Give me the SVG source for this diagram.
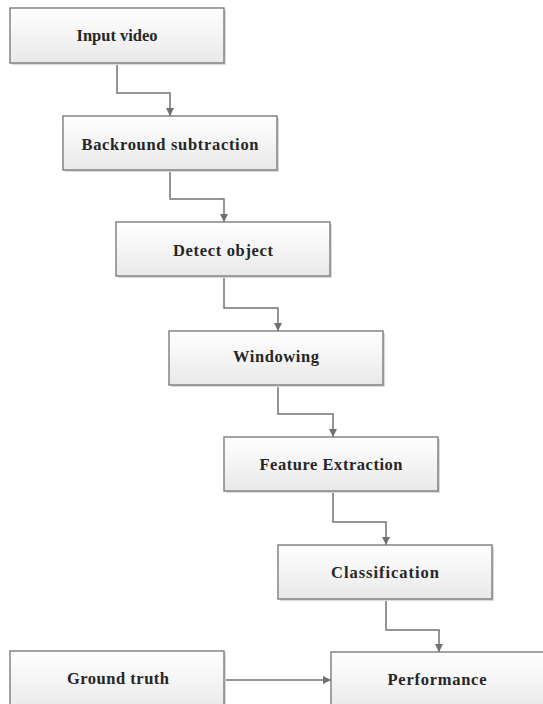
<svg xmlns="http://www.w3.org/2000/svg" width="543" height="704" viewBox="0 0 543 704">
  <defs>
    <linearGradient id="boxFill" x1="0" y1="0" x2="0" y2="1">
      <stop offset="0" stop-color="#ffffff"/>
      <stop offset="1" stop-color="#e9e9e9"/>
    </linearGradient>
    <marker id="arrow" viewBox="0 0 10 10" refX="10" refY="5" markerWidth="5.5" markerHeight="5.5" orient="auto" markerUnits="strokeWidth">
      <path d="M0,0 L10,5 L0,10 Z" fill="#707070"/>
    </marker>
  </defs>
  <style>
    .shadow { fill: #dadada; }
    .box { fill: url(#boxFill); stroke: #7c7c7c; stroke-width: 1.4; }
    .label { font-family: "Liberation Serif", "Times New Roman", serif; font-weight: bold; font-size: 16.5px; fill: #262626; text-anchor: middle; }
    .link { fill: none; stroke: #737373; stroke-width: 1.5; marker-end: url(#arrow); }
  </style>
  <rect width="543" height="704" fill="#ffffff"/>

  <g id="connectors">
    <path class="link" d="M117,63 V93 H170 V116"/>
    <path class="link" d="M170,170 V199 H224 V222"/>
    <path class="link" d="M224,276 V308 H278 V331"/>
    <path class="link" d="M278,385 V414 H333 V437"/>
    <path class="link" d="M333,491 V522 H386 V545"/>
    <path class="link" d="M386,599 V630 H439 V652"/>
    <path class="link" d="M224,680 H331"/>
  </g>

  <g id="input-video">
    <rect class="shadow" x="12" y="10" width="214" height="55"/>
    <rect class="box" x="10" y="8" width="214" height="55"/>
    <text class="label" x="117" y="41" textLength="81" lengthAdjust="spacing">Input video</text>
  </g>

  <g id="background-subtraction">
    <rect class="shadow" x="65" y="118" width="214" height="54"/>
    <rect class="box" x="63" y="116" width="214" height="54"/>
    <text class="label" x="170" y="150" textLength="177" lengthAdjust="spacing">Backround subtraction</text>
  </g>

  <g id="detect-object">
    <rect class="shadow" x="118" y="224" width="214" height="54"/>
    <rect class="box" x="116" y="222" width="214" height="54"/>
    <text class="label" x="223" y="256" textLength="100" lengthAdjust="spacing">Detect object</text>
  </g>

  <g id="windowing">
    <rect class="shadow" x="171" y="333" width="214" height="54"/>
    <rect class="box" x="169" y="331" width="214" height="54"/>
    <text class="label" x="276" y="362" textLength="86" lengthAdjust="spacing">Windowing</text>
  </g>

  <g id="feature-extraction">
    <rect class="shadow" x="226" y="439" width="214" height="54"/>
    <rect class="box" x="224" y="437" width="214" height="54"/>
    <text class="label" x="331" y="470" textLength="143" lengthAdjust="spacing">Feature Extraction</text>
  </g>

  <g id="classification">
    <rect class="shadow" x="280" y="547" width="214" height="54"/>
    <rect class="box" x="278" y="545" width="214" height="54"/>
    <text class="label" x="385" y="578" textLength="108" lengthAdjust="spacing">Classification</text>
  </g>

  <g id="ground-truth">
    <rect class="shadow" x="12" y="653" width="214" height="60"/>
    <rect class="box" x="10" y="651" width="214" height="60"/>
    <text class="label" x="118" y="684" textLength="102" lengthAdjust="spacing">Ground truth</text>
  </g>

  <g id="performance">
    <rect class="shadow" x="333" y="654" width="214" height="60"/>
    <rect class="box" x="331" y="652" width="214" height="60"/>
    <text class="label" x="437" y="685" textLength="99" lengthAdjust="spacing">Performance</text>
  </g>
</svg>
